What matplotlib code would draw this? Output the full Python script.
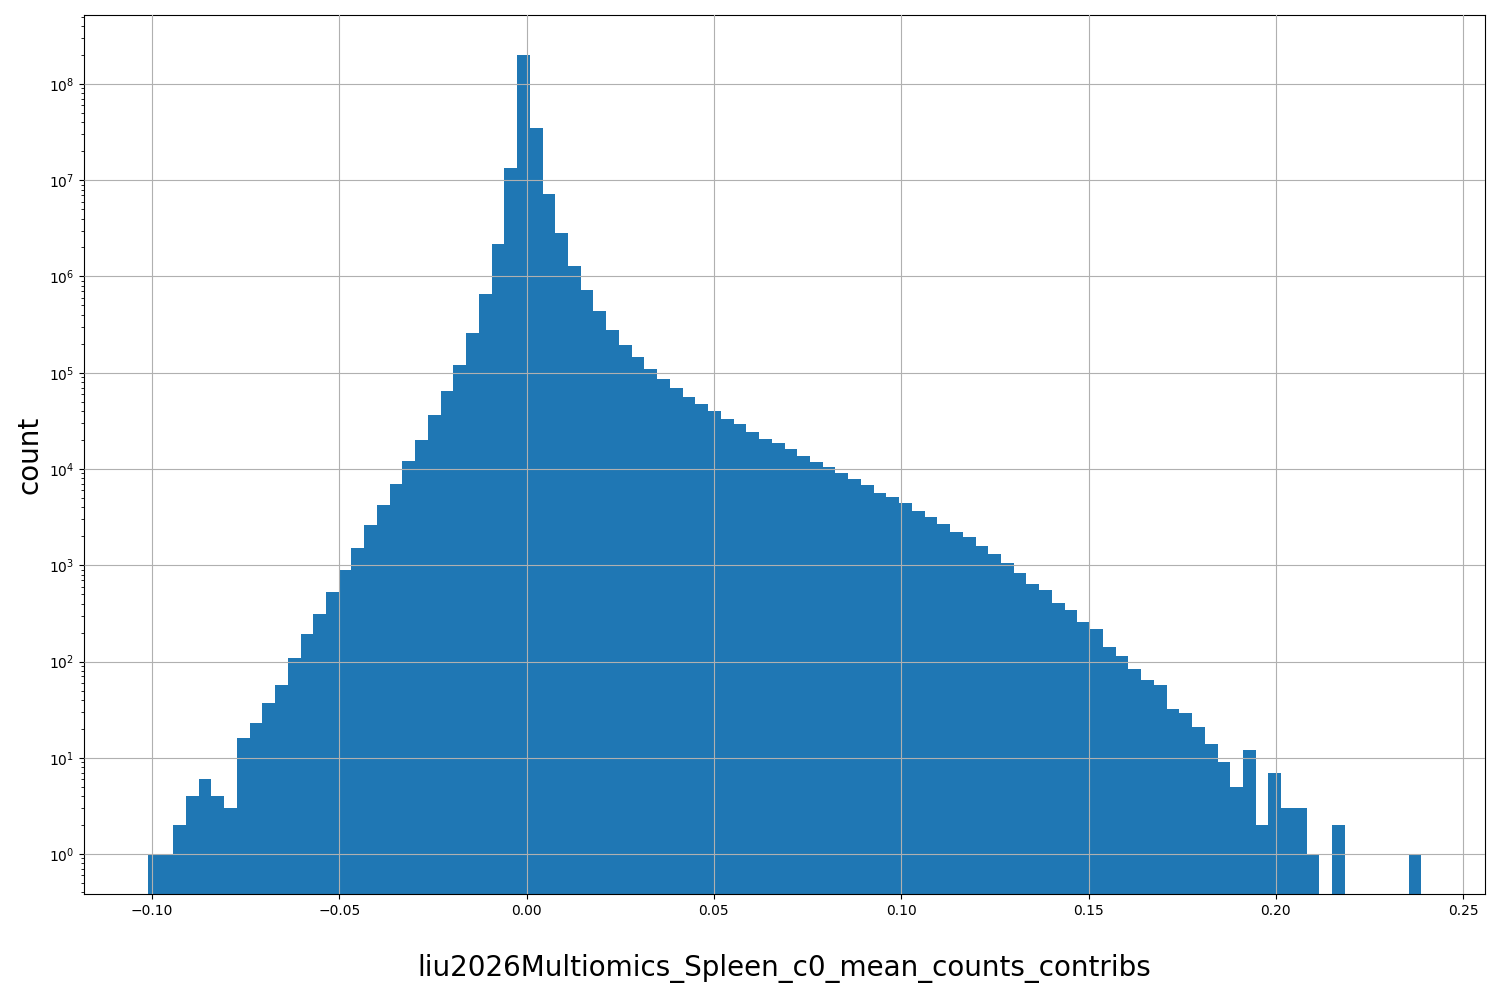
import numpy as np
import matplotlib
matplotlib.use("Agg")
import matplotlib.pyplot as plt

x_min, x_max, n_bins = -0.1011, 0.2388, 100
counts = [1,1,2,4,6,4,3,16,23,37,57,110,195,310,530,900,1500,2600,4200,7000,
          12000,20000,36000,65000,120000,260000,650000,2.2e6,1.35e7,2e8,
          3.5e7,7.2e6,2.8e6,1.3e6,7.2e5,4.4e5,2.8e5,1.95e5,1.45e5,1.1e5,
          8.7e4,7e4,5.6e4,4.7e4,4e4,3.3e4,2.9e4,2.45e4,2.05e4,1.85e4,
          1.6e4,1.35e4,1.18e4,1.05e4,9000,7900,6800,5700,5100,4400,
          3700,3200,2700,2200,1950,1600,1300,1050,830,640,
          560,410,340,260,220,140,113,83,64,57,
          32,29,21,14,9,5,12,2,7,3,
          3,1,0,2,0,0,0,0,0,1]

edges = np.linspace(x_min, x_max, n_bins + 1)
centers = (edges[:-1] + edges[1:]) / 2

fig = plt.figure(figsize=(15, 10), dpi=100)
ax = fig.add_axes([0.056, 0.106, 0.934, 0.879])
ax.hist(centers, bins=edges, weights=counts, color="#1f77b4", log=True)
ax.set_ylim(0.385, 5.2e8)
ax.set_xticks([-0.10, -0.05, 0.00, 0.05, 0.10, 0.15, 0.20, 0.25])
ax.grid(True)
ax.set_axisbelow(False)
ax.set_xlabel("liu2026Multiomics_Spleen_c0_mean_counts_contribs", fontsize=20, labelpad=26)
ax.set_ylabel("count", fontsize=20)
fig.savefig("out.png")
